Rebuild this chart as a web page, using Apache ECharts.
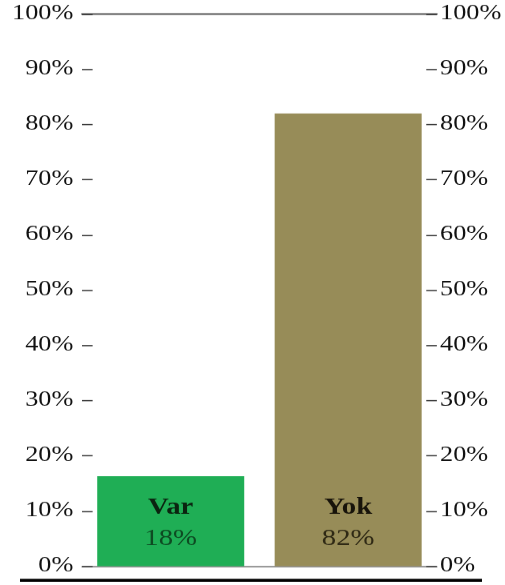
<!DOCTYPE html>
<html>
<head>
<meta charset="utf-8">
<script src="https://cdn.jsdelivr.net/npm/echarts@6/dist/echarts.min.js"></script>
<style>
html,body{margin:0;padding:0;background:#fff;overflow:hidden;}
#chart{width:404px;height:585px;transform:scaleX(1.25);transform-origin:0 0;}
</style>
</head>
<body>
<div id="chart"></div>
<script>
var categories = ['Var', 'Yok'];
var barValues = [16.3, 82];
var labelTexts = ['18%', '82%'];
var barColors = ['#1fae55', '#978c58'];
var nameColors = ['#0b2410', '#17130a'];
var valueColors = ['#0e4a22', '#2e2814'];

var chart = echarts.init(document.getElementById('chart'), null, {renderer: 'canvas', devicePixelRatio: 1.25});
var font = '"Liberation Serif", "Times New Roman", serif';

var yAxisBase = function (pos, margin) {
  return {
    type: 'value', position: pos, min: 0, max: 100, interval: 10,
    axisLine: {show: false},
    axisTick: {show: true, inside: true, length: 8.5, lineStyle: {color: '#333', width: 1.2}},
    splitLine: {show: false},
    axisLabel: {
      margin: margin, fontFamily: font, fontSize: 21, color: '#111',
      formatter: function (v) { return v + '%'; }
    }
  };
};

chart.setOption({
  animation: false,
  grid: {left: 65.6, right: 54.4, top: 14, bottom: 19},
  xAxis: [
    {type: 'category', data: categories, position: 'bottom',
     axisLine: {show: true, onZero: false, lineStyle: {color: '#555', width: 1}},
     axisTick: {show: false}, axisLabel: {show: false}},
    {type: 'category', data: categories, position: 'top',
     axisLine: {show: true, onZero: false, lineStyle: {color: '#555', width: 1.5}},
     axisTick: {show: false}, axisLabel: {show: false}}
  ],
  yAxis: [yAxisBase('left', 7), yAxisBase('right', 2.5)],
  graphic: [{
    type: 'line', z: 10,
    shape: {x1: 16, y1: 580, x2: 385.6, y2: 580},
    style: {stroke: '#000', lineWidth: 3}
  }],
  series: [{
    type: 'bar', xAxisIndex: 0, yAxisIndex: 0,
    barWidth: 117.6,
    data: barValues.map(function (v, i) {
      return {value: v, itemStyle: {color: barColors[i]}};
    }),
    label: {
      show: true, position: 'insideBottom', distance: 12,
      formatter: function (p) {
        var i = p.dataIndex;
        return '{b' + i + '|' + categories[i] + '}\n{v' + i + '|' + labelTexts[i] + '}';
      },
      rich: {
        b0: {fontFamily: font, fontWeight: 'bold', fontSize: 23, color: nameColors[0], lineHeight: 32},
        v0: {fontFamily: font, fontSize: 23, color: valueColors[0], lineHeight: 30},
        b1: {fontFamily: font, fontWeight: 'bold', fontSize: 23, color: nameColors[1], lineHeight: 32},
        v1: {fontFamily: font, fontSize: 23, color: valueColors[1], lineHeight: 30}
      }
    }
  }]
});
</script>
</body>
</html>
